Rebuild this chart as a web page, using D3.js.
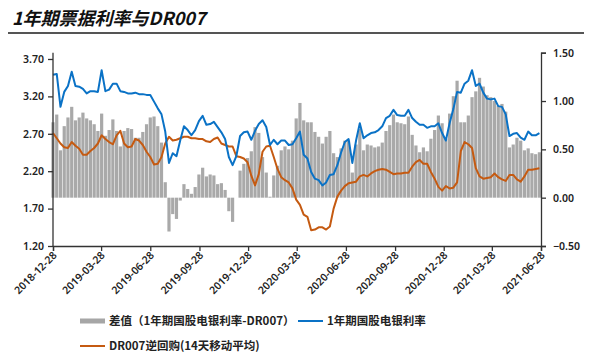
<!DOCTYPE html>
<html>
<head>
<meta charset="utf-8">
<script src="https://cdn.jsdelivr.net/npm/d3@7/dist/d3.min.js"></script>
<style>
  html, body { margin: 0; padding: 0; background: #fff; }
  svg { display: block; }
  .tick text { font-family: "Noto Sans", "Liberation Sans", sans-serif; font-size: 10.5px; font-weight: 600; fill: #222; }
  .legend text { font-family: "Noto Sans CJK SC", sans-serif; font-size: 11.5px; font-weight: bold; fill: #222; }
</style>
</head>
<body>
<svg id="chart" width="590" height="363"></svg>
<script>
// ── Data (weekly samples from 2018-12-28) ───────────────────────────────────
const START = '2018-12-28';
const END = '2021-06-28';

// 1年期国股电银利率 (left axis)
const rate1y = [
  3.49, 3.50, 3.06, 3.26, 3.34, 3.53, 3.34, 3.33, 3.30, 3.24,
  3.27, 3.27, 3.26, 3.55, 3.27, 3.29, 3.37, 3.37, 3.27, 3.26,
  3.24, 3.24, 3.25, 3.23, 3.23, 3.22, 3.22, 3.13, 3.04, 2.96,
  2.73, 2.31, 2.44, 2.40, 2.61, 2.80, 2.75, 2.68, 2.75, 2.87,
  2.94, 2.82, 2.83, 2.86, 2.79, 2.72, 2.63, 2.39, 2.28, 2.40,
  2.67, 2.72, 2.73, 2.62, 2.74, 2.83, 2.88, 2.79, 2.55, 2.62,
  2.56, 2.61, 2.61, 2.55, 2.56, 2.64, 2.73, 2.42, 2.37, 2.19,
  2.10, 2.08, 2.01, 2.05, 2.15, 2.16, 2.28, 2.45, 2.59, 2.63,
  2.31, 2.61, 2.84, 2.64, 2.68, 2.71, 2.72, 2.75, 2.80, 2.91,
  2.94, 3.02, 2.95, 2.94, 2.94, 3.02, 2.91, 2.86, 2.82, 2.82,
  2.78, 2.80, 2.80, 2.84, 2.71, 2.61, 2.84, 3.03, 3.26, 3.25,
  3.37, 3.41, 3.55, 3.34, 3.37, 3.25, 3.17, 3.16, 3.17, 3.07,
  3.06, 2.96, 2.67, 2.70, 2.71, 2.65, 2.62, 2.73, 2.68, 2.68,
  2.71
];

// DR007逆回购(14天移动平均) (left axis)
const dr007 = [
  2.71, 2.64, 2.57, 2.52, 2.51, 2.59, 2.54, 2.50, 2.42, 2.42,
  2.47, 2.51, 2.57, 2.68, 2.63, 2.59, 2.56, 2.68, 2.74, 2.57,
  2.52, 2.53, 2.63, 2.61, 2.55, 2.46, 2.39, 2.29, 2.30, 2.39,
  2.57, 2.66, 2.61, 2.62, 2.64, 2.66, 2.66, 2.64, 2.64, 2.63,
  2.63, 2.60, 2.59, 2.63, 2.65, 2.57, 2.55, 2.53, 2.53, 2.40,
  2.39, 2.37, 2.32, 2.14, 2.01, 2.16, 2.46, 2.53, 2.54, 2.39,
  2.23, 2.12, 2.08, 2.05, 1.97, 1.82, 1.75, 1.62, 1.59, 1.41,
  1.42, 1.45, 1.45, 1.42, 1.46, 1.70, 1.86, 1.94, 2.00, 2.04,
  2.05, 2.06, 2.13, 2.15, 2.13, 2.17, 2.20, 2.22, 2.23, 2.22,
  2.19, 2.16, 2.17, 2.17, 2.18, 2.18, 2.26, 2.32, 2.35, 2.30,
  2.30, 2.19, 2.10, 1.99, 1.94, 2.00, 1.97, 1.98, 2.05, 2.47,
  2.59, 2.56, 2.51, 2.24, 2.13, 2.10, 2.11, 2.12, 2.17, 2.12,
  2.09, 2.07, 2.15, 2.15, 2.09, 2.06, 2.13, 2.22, 2.22, 2.23,
  2.24
];

const leftTicks = [1.2, 1.7, 2.2, 2.7, 3.2, 3.7];
const rightTicks = [-0.5, 0, 0.5, 1.0, 1.5];
const xTickLabels = [
  '2018-12-28', '2019-03-28', '2019-06-28', '2019-09-28', '2019-12-28', '2020-03-28',
  '2020-06-28', '2020-09-28', '2020-12-28', '2021-03-28', '2021-06-28'
];

const LEGEND = [
  { key: 'bar',  label: '差值（1年期国股电银利率-DR007）', color: '#a6a6a6' },
  { key: 'blue', label: '1年期国股电银利率', color: '#0a72c6' },
  { key: 'dr',   label: 'DR007逆回购(14天移动平均)', color: '#c55a11' }
];

// ── Setup ───────────────────────────────────────────────────────────────────
const parse = d3.timeParse('%Y-%m-%d');
const start = parse(START);
const dates = rate1y.map((_, i) => d3.timeDay.offset(start, 7 * i));
// 差值 = 1年期国股电银利率 - DR007
const spread = rate1y.map((v, i) => v - dr007[i]);

const svg = d3.select('#chart');
const M = { left: 53, right: 541, top: 52.7, bottom: 246 };

const x = d3.scaleTime().domain([start, parse(END)]).range([M.left, M.right]);
const yL = d3.scaleLinear().domain([1.2, 3.784]).range([M.bottom, M.top]);
const yR = d3.scaleLinear().domain([-0.5, 1.5]).range([M.bottom, M.top]);

// title
svg.append('text')
  .attr('x', 12).attr('y', 25)
  .attr('font-family', '"Noto Sans CJK SC", sans-serif')
  .attr('font-size', 18).attr('font-weight', 'bold').attr('font-style', 'italic')
  .attr('fill', '#111')
  .text('1年期票据利率与DR007');
svg.append('line')
  .attr('x1', 8).attr('x2', 584).attr('y1', 33).attr('y2', 33)
  .attr('stroke', '#555').attr('stroke-width', 2);

// ── Bars (right axis) ───────────────────────────────────────────────────────
const barW = 3.2;
svg.append('g').selectAll('rect').data(spread).join('rect')
  .attr('x', (d, i) => x(dates[i]) - barW / 2)
  .attr('width', barW)
  .attr('y', d => Math.min(yR(d), yR(0)))
  .attr('height', d => Math.abs(yR(d) - yR(0)))
  .attr('fill', '#a9a9a9');

// ── Lines (left axis) ───────────────────────────────────────────────────────
const line = d3.line().x((d, i) => x(dates[i])).y(d => yL(d));
svg.append('path').datum(dr007)
  .attr('d', line).attr('fill', 'none')
  .attr('stroke', '#c55a11').attr('stroke-width', 2).attr('stroke-linejoin', 'round');
svg.append('path').datum(rate1y)
  .attr('d', line).attr('fill', 'none')
  .attr('stroke', '#0a72c6').attr('stroke-width', 2).attr('stroke-linejoin', 'round');

// ── Axes ────────────────────────────────────────────────────────────────────
function styleAxis(g) {
  g.select('.domain').attr('stroke', '#333').attr('stroke-width', 1.3);
  g.selectAll('.tick line').attr('stroke', '#333').attr('stroke-width', 1.3);
}

const gl = svg.append('g').attr('transform', `translate(${M.left},0)`)
  .call(d3.axisLeft(yL).tickValues(leftTicks).tickFormat(d3.format('.2f')).tickSizeOuter(0).tickSize(5).tickPadding(4));
gl.select('.domain').attr('d', `M0,${M.top}V${M.bottom}`);
styleAxis(gl);

const gr = svg.append('g').attr('transform', `translate(${M.right},0)`)
  .call(d3.axisRight(yR).tickValues(rightTicks).tickFormat(d3.format('.2f')).tickSizeOuter(0).tickSize(5).tickPadding(7));
styleAxis(gr);

const gx = svg.append('g').attr('transform', `translate(0,${M.bottom})`)
  .call(d3.axisBottom(x).tickValues(xTickLabels.map(parse)).tickFormat(d3.timeFormat('%Y-%m-%d')).tickSizeOuter(0).tickSize(5));
styleAxis(gx);
gx.selectAll('.tick text')
  .attr('text-anchor', 'end')
  .attr('dy', 0).attr('y', 0)
  .attr('transform', 'translate(4,10) rotate(-45)');

// ── Legend ──────────────────────────────────────────────────────────────────
const lg = svg.append('g').attr('class', 'legend');
const legendPos = [[80, 321], [298, 321], [80, 346]];
LEGEND.forEach((it, i) => {
  const [lx, ly] = legendPos[i];
  if (it.key === 'bar') {
    lg.append('rect').attr('x', lx).attr('y', ly - 2.5).attr('width', 25).attr('height', 5).attr('fill', it.color);
  } else {
    lg.append('line').attr('x1', lx).attr('x2', lx + 25).attr('y1', ly).attr('y2', ly)
      .attr('stroke', it.color).attr('stroke-width', 2);
  }
  lg.append('text').attr('x', lx + 29).attr('y', ly + 4).text(it.label);
});
</script>
</body>
</html>
